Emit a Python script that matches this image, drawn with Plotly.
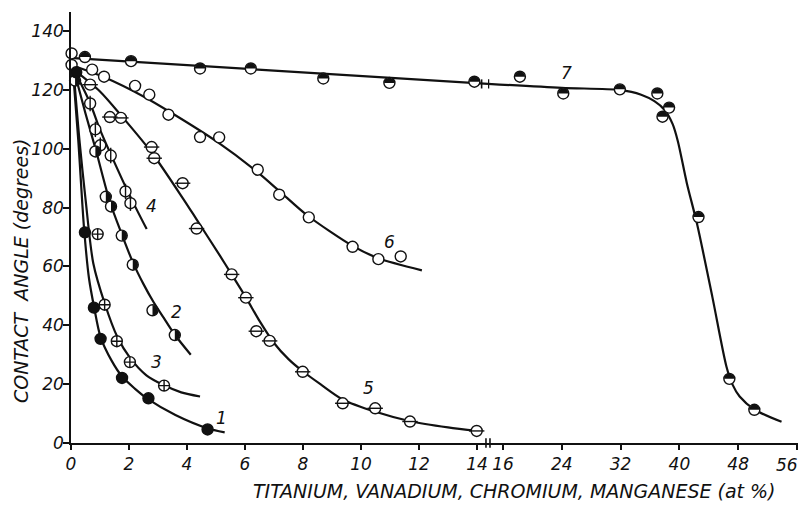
import math
import plotly.graph_objects as go

FONT = "DejaVu Sans"
INK = "#111111"

# ---------------- tick labels ----------------
y_ticks = [0, 20, 40, 60, 80, 100, 120, 140]
x_left_ticks = [0, 2, 4, 6, 8, 10, 12, 14]
x_right_ticks = [16, 24, 32, 40, 48, 56]

# ---------------- curve 1 (filled circles) ----------------
c1_x = [0.18, 0.48, 0.79, 1.02, 1.76, 2.67, 4.71]
c1_y = [126.0, 71.6, 46.0, 35.4, 22.1, 15.2, 4.6]
c1_line_x = [0.08, 0.25, 0.45, 0.62, 0.80, 1.02, 1.40, 1.77, 2.20, 2.67, 3.60, 4.70, 5.30]
c1_line_y = [125.0, 103.0, 73.0, 56.0, 46.0, 36.0, 28.0, 22.5, 18.5, 14.8, 9.5, 5.0, 3.6]

# ---------------- curve 2 (half-filled circles) ----------------
c2_x = [0.14, 0.84, 1.20, 1.38, 1.75, 2.13, 2.81, 3.58]
c2_y = [123.2, 99.1, 83.7, 80.4, 70.5, 60.6, 45.1, 36.7]
c2_line_x = [0.12, 0.50, 0.86, 1.34, 1.75, 2.13, 2.50, 2.84, 3.20, 3.58, 4.13]
c2_line_y = [126.0, 112.0, 99.5, 82.0, 71.0, 61.5, 54.0, 48.0, 42.5, 36.8, 30.0]

# ---------------- curve 3 (crossed circles) ----------------
c3_x = [0.92, 1.16, 1.58, 2.03, 3.21]
c3_y = [71.0, 47.0, 34.6, 27.5, 19.5]
c3_line_x = [0.10, 0.30, 0.50, 0.77, 1.16, 1.60, 2.03, 2.60, 3.21, 3.80, 4.45]
c3_line_y = [125.0, 102.0, 83.0, 61.0, 47.5, 36.0, 29.0, 23.0, 19.6, 17.2, 15.8]

# ---------------- curve 4 (circles with vertical bar) ----------------
c4_x = [0.66, 0.84, 1.01, 1.37, 1.88, 2.05]
c4_y = [115.4, 106.6, 101.2, 97.7, 85.5, 81.5]
c4_line_x = [0.12, 0.66, 1.00, 1.40, 2.03, 2.61]
c4_line_y = [126.5, 115.5, 106.5, 97.5, 84.0, 72.7]

# ---------------- curve 5 (circles with horizontal bar) ----------------
c5_x = [0.66, 1.34, 1.72, 2.78, 2.87, 3.85, 4.33, 5.54, 6.03, 6.39, 6.85, 7.99, 9.37, 10.49, 11.69, 13.99]
c5_y = [121.8, 110.8, 110.5, 100.6, 96.8, 88.3, 72.9, 57.3, 49.4, 38.0, 34.7, 24.2, 13.5, 11.8, 7.3, 4.1]
c5_line_x = [0.15, 1.00, 1.80, 2.80, 3.87, 4.33, 5.14, 5.54, 6.03, 6.50, 7.00, 7.50, 8.00, 8.60, 9.37, 10.50, 11.70, 13.00, 14.00]
c5_line_y = [126.5, 119.5, 110.5, 98.5, 83.0, 76.0, 63.6, 57.3, 49.5, 41.5, 34.0, 28.5, 24.3, 20.0, 14.8, 10.6, 7.4, 5.3, 4.1]

# ---------------- curve 6 (open circles) ----------------
c6_x = [0.02, 0.02, 0.73, 1.14, 2.21, 2.70, 3.36, 4.45, 5.11, 6.44, 7.18, 8.20, 9.71, 10.60, 11.37]
c6_y = [132.4, 128.5, 126.9, 124.5, 121.4, 118.4, 111.6, 104.0, 103.9, 92.9, 84.4, 76.7, 66.7, 62.5, 63.4]
c6_line_x = [0.15, 1.11, 2.50, 3.50, 5.02, 6.44, 7.20, 8.13, 9.71, 10.60, 12.10]
c6_line_y = [128.0, 124.5, 117.8, 112.0, 102.5, 92.0, 85.5, 77.5, 67.0, 62.8, 58.7]

# ---------------- curve 7 (top-half-filled circles), broken axis ----------------
c7a_x = [0.48, 2.07, 4.45, 6.20, 8.70, 10.98, 13.91]
c7a_y = [131.2, 129.8, 127.3, 127.3, 123.9, 122.4, 122.8]
c7a_line_x = [0.10, 7.00, 14.38]
c7a_line_y = [130.8, 126.6, 122.1]
c7b_x = [18.3, 24.2, 31.9, 37.0, 38.6, 37.7, 42.6, 46.8, 50.2]
c7b_y = [124.5, 118.8, 120.2, 118.8, 114.0, 110.9, 76.8, 21.8, 11.3]
c7b_line_x = [13.96, 24.0, 31.9, 34.8, 36.6, 38.0, 39.1, 39.8, 41.0, 42.4, 44.5, 46.4, 47.2, 48.2, 50.2, 53.9]
c7b_line_y = [122.1, 120.7, 120.0, 118.4, 116.2, 113.2, 108.3, 102.5, 88.5, 74.5, 49.5, 26.0, 20.0, 15.8, 11.4, 7.2]

# ---------------- curve number labels ----------------
lab_text = ["1", "2", "3", "4", "5", "6"]
lab_x = [5.2, 3.64, 2.95, 2.78, 10.25, 10.98]
lab_y = [8.5, 44.5, 27.5, 80.7, 18.7, 68.2]
lab7_x, lab7_y = 24.6, 125.6

# ---------------- layout geometry ----------------
# screen positions of the plot box (page body adds an 8 px offset)
OFF = 8
W, H = 806 - OFF, 507 - OFF
S_LEFT, S_RIGHT, S_TOP, S_BOTTOM = 71, 798, 12, 443
PW, PH = S_RIGHT - S_LEFT, S_BOTTOM - S_TOP
ML, MT = S_LEFT - OFF, S_TOP - OFF
MR, MB = W - ML - PW, H - MT - PH
split_px = 488
dom_split = (split_px - S_LEFT) / PW
x1_range = [0, 14.38]
x2_range = [13.96, 56.14]
y_range = [0, 146.5]

MSIZE = 11
px_per_x1 = PW * dom_split / (x1_range[1] - x1_range[0])
px_per_x2 = PW * (1 - dom_split) / (x2_range[1] - x2_range[0])
px_per_y = PH / (y_range[1] - y_range[0])


def paper_x(sx):
    return (sx - S_LEFT) / PW


def paper_y(sy):
    return (S_BOTTOM - sy) / PH


fig = go.Figure()


def add_line(xs, ys, ax):
    fig.add_trace(go.Scatter(x=xs, y=ys, mode="lines", xaxis=ax, yaxis="y",
                             line=dict(color=INK, width=2.2, shape="spline", smoothing=0.8),
                             hoverinfo="skip", showlegend=False, cliponaxis=True))


def add_markers(xs, ys, ax, symbol, fill, size=MSIZE, lw=1.4):
    fig.add_trace(go.Scatter(x=xs, y=ys, mode="markers", xaxis=ax, yaxis="y",
                             marker=dict(symbol=symbol, size=size, color=fill,
                                         line=dict(color=INK, width=lw)),
                             hoverinfo="skip", showlegend=False, cliponaxis=False))


shapes = []


def half_discs(xs, ys, ax, start_deg, ppx):
    """black half-disc drawn over each open marker (data coords)."""
    r = MSIZE / 2 - 0.3
    rx, ry = r / ppx, r / px_per_y
    for xv, yv in zip(xs, ys):
        pts = []
        for k in range(0, 19):
            a = math.radians(start_deg + 10 * k)
            pts.append((xv + rx * math.cos(a), yv + ry * math.sin(a)))
        path = "M " + " L ".join(f"{p[0]:.5f},{p[1]:.4f}" for p in pts) + " Z"
        shapes.append(dict(type="path", xref=ax, yref="y", path=path,
                           fillcolor=INK, line=dict(width=0), layer="above"))


# lines
add_line(c6_line_x, c6_line_y, "x")
add_line(c5_line_x, c5_line_y, "x")
add_line(c4_line_x, c4_line_y, "x")
add_line(c3_line_x, c3_line_y, "x")
add_line(c2_line_x, c2_line_y, "x")
add_line(c1_line_x, c1_line_y, "x")
add_line(c7a_line_x, c7a_line_y, "x")
add_line(c7b_line_x, c7b_line_y, "x2")

# markers
add_markers(c6_x, c6_y, "x", "circle", "white")
add_markers(c5_x, c5_y, "x", "circle", "white")
add_markers(c5_x, c5_y, "x", "line-ew", "white")
add_markers(c4_x, c4_y, "x", "circle", "white")
add_markers(c4_x, c4_y, "x", "line-ns", "white")
add_markers(c3_x, c3_y, "x", "circle-cross", "white")
add_markers(c2_x, c2_y, "x", "circle", "white")
add_markers(c1_x, c1_y, "x", "circle", INK)
add_markers(c7a_x, c7a_y, "x", "circle", "white")
add_markers(c7b_x, c7b_y, "x2", "circle", "white")

half_discs(c2_x, c2_y, "x", -90, px_per_x1)
half_discs(c7a_x, c7a_y, "x", 0, px_per_x1)
half_discs(c7b_x, c7b_y, "x2", 0, px_per_x2)

tickfont = dict(family=FONT, size=17, color=INK, style="italic")
common_x = dict(showline=True, linecolor=INK, linewidth=1.6, ticks="outside",
                ticklen=5, tickwidth=1.5, tickcolor=INK, showgrid=False,
                zeroline=False, tickfont=tickfont, fixedrange=True)

# the last right-hand label sits at the window edge: draw it as an annotation
x2_ticktext = [str(v) if v != x_right_ticks[-1] else "" for v in x_right_ticks]

fig.update_layout(
    width=W, height=H,
    margin=dict(l=ML, r=MR, t=MT, b=MB, autoexpand=False),
    paper_bgcolor="white", plot_bgcolor="white",
    showlegend=False,
    xaxis=dict(domain=[0, dom_split], range=x1_range, tickvals=x_left_ticks,
               anchor="y", **common_x),
    xaxis2=dict(domain=[dom_split, 1], range=x2_range, tickvals=x_right_ticks,
                ticktext=x2_ticktext, anchor="y", **common_x),
    yaxis=dict(range=y_range, tickvals=y_ticks, showline=True, linecolor=INK,
               linewidth=1.6, ticks="outside", ticklen=6, tickwidth=1.5,
               tickcolor=INK, showgrid=False, zeroline=False, anchor="x",
               tickfont=tickfont, ticklabelstandoff=-4, fixedrange=True),
)

annotations = []
for t, xv, yv in zip(lab_text, lab_x, lab_y):
    annotations.append(dict(x=xv, y=yv, xref="x", yref="y", text=t, showarrow=False,
                            font=dict(family=FONT, size=17, color=INK, style="italic")))
annotations.append(dict(x=lab7_x, y=lab7_y, xref="x2", yref="y", text="7", showarrow=False,
                        font=dict(family=FONT, size=17, color=INK, style="italic")))
annotations.append(dict(x=x_right_ticks[-1], y=paper_y(465), xref="x2", yref="paper",
                        text=str(x_right_ticks[-1]), showarrow=False,
                        xanchor="right", yanchor="middle", xshift=3,
                        font=tickfont))
annotations.append(dict(x=paper_x(21), y=paper_y(271), xref="paper", yref="paper",
                        text="CONTACT  ANGLE (degrees)", textangle=-90, showarrow=False,
                        xanchor="center", yanchor="middle",
                        font=dict(family=FONT, size=19, color=INK, style="italic")))
annotations.append(dict(x=paper_x(514), y=paper_y(491), xref="paper", yref="paper",
                        text="TITANIUM, VANADIUM, CHROMIUM, MANGANESE (at %)", showarrow=False,
                        xanchor="center", yanchor="middle",
                        font=dict(family=FONT, size=19, color=INK, style="italic")))
fig.update_layout(annotations=annotations)

# axis-break marks
shapes += [
    dict(type="line", xref="x", yref="paper", x0=14.31, x1=14.31, y0=-0.011, y1=0.011,
         line=dict(color=INK, width=1.6)),
    dict(type="line", xref="x2", yref="paper", x0=14.23, x1=14.23, y0=-0.011, y1=0.011,
         line=dict(color=INK, width=1.6)),
    dict(type="line", xref="x", yref="y", x0=14.16, x1=14.16, y0=120.5, y1=123.6,
         line=dict(color=INK, width=1.6)),
    dict(type="line", xref="x2", yref="y", x0=14.02, x1=14.02, y0=120.5, y1=123.6,
         line=dict(color=INK, width=1.6)),
]
fig.update_layout(shapes=shapes)

fig.write_html("out.html")
